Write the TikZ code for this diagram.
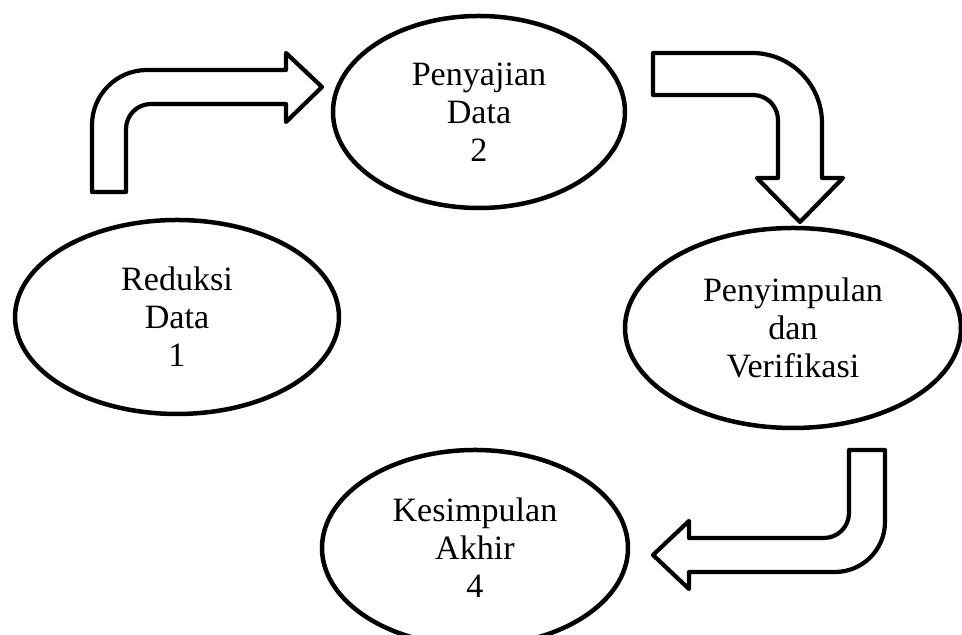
\documentclass[tikz,border=0pt]{standalone}
\usepackage{fontspec}
\setmainfont{Liberation Serif}
\usepackage{tikz}
\usetikzlibrary{shapes.geometric}

\begin{document}
\begin{tikzpicture}[x=0.1mm, y=0.1mm,
    tahap/.style={draw, ellipse, line width=0.45mm, inner sep=0pt, align=center,
                  font=\fontsize{9.7}{10.8}\selectfont},
    panah/.style={draw, line width=0.42mm, line join=round, fill=white}]

    \useasboundingbox (0,0) rectangle (962,635);
    \clip (0,0) rectangle (962,635);

    % Tahap 1
    \node[tahap, minimum width=32.4mm, minimum height=19.4mm]
          (reduksi) at (177,318) {Reduksi\\Data\\1};

    % Tahap 2
    \node[tahap, minimum width=29.2mm, minimum height=19.2mm]
          (sajian) at (479,523) {Penyajian\\Data\\2};

    % Tahap 3
    \node[tahap, minimum width=33.6mm, minimum height=20mm]
          (simpul) at (793,307) {Penyimpulan\\dan\\Verifikasi};

    % Tahap 4
    \node[tahap, minimum width=30.6mm, minimum height=19.6mm]
          (akhir) at (475,87) {Kesimpulan\\Akhir\\4};

    % Panah 1 -> 2
    \draw[panah] (92,443) -- (92,510) arc[start angle=180, end angle=90, radius=5.5mm]
        -- (286,565) -- (286,582) -- (322,548) -- (286,513) -- (286,531)
        -- (151,531) arc[start angle=90, end angle=180, radius=2.5mm]
        -- (126,443) -- cycle;

    % Panah 2 -> 3
    \draw[panah] (653,582) -- (752,582) arc[start angle=90, end angle=0, radius=7mm]
        -- (822,457) -- (843,457) -- (800,413) -- (757,457) -- (778,457)
        -- (778,515) arc[start angle=0, end angle=90, radius=2.5mm]
        -- (653,540) -- cycle;

    % Panah 3 -> 4
    \draw[panah] (849,185) -- (885,185) -- (885,113) arc[start angle=0, end angle=-90, radius=5mm]
        -- (689,63) -- (689,46) -- (653,80) -- (689,114) -- (689,97)
        -- (824,97) arc[start angle=-90, end angle=0, radius=2.5mm]
        -- cycle;
\end{tikzpicture}
\end{document}
